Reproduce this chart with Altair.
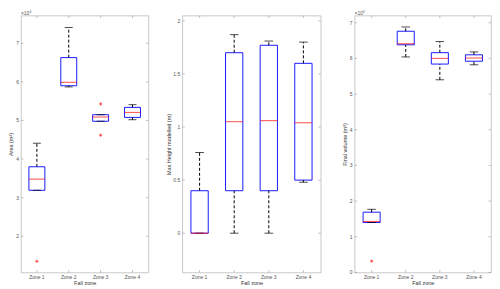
import altair as alt
import pandas as pd

zones = ["Zone 1", "Zone 2", "Zone 3", "Zone 4"]

# Panel 1: Area (x10^4 m^2)
area_wlo = [3.19, 5.87, 4.98, 5.02]
area_q1 = [3.19, 5.90, 4.98, 5.08]
area_med = [3.48, 5.99, 5.09, 5.21]
area_q3 = [3.80, 6.63, 5.15, 5.34]
area_whi = [4.41, 7.41, 5.15, 5.41]
area_out_zone = ["Zone 1", "Zone 3", "Zone 3"]
area_out_val = [1.35, 5.43, 4.62]
area_ticks = [2, 3, 4, 5, 6, 7]
area_tick_labels = ["2", "3", "4", "5", "6", "7"]

# Panel 2: Max height modelled (m)
h_wlo = [0.0, 0.0, 0.0, 0.48]
h_q1 = [0.0, 0.40, 0.40, 0.50]
h_med = [0.0, 1.05, 1.06, 1.04]
h_q3 = [0.40, 1.70, 1.77, 1.60]
h_whi = [0.76, 1.87, 1.81, 1.80]
h_out_zone = []
h_out_val = []
h_ticks = [0, 0.5, 1, 1.5, 2]
h_tick_labels = ["0", "0.5", "1", "1.5", "2"]

# Panel 3: Final volume (x10^5 m^3)
v_wlo = [1.40, 6.04, 5.40, 5.82]
v_q1 = [1.40, 6.38, 5.84, 5.92]
v_med = [1.43, 6.41, 6.00, 6.01]
v_q3 = [1.69, 6.76, 6.16, 6.10]
v_whi = [1.77, 6.88, 6.47, 6.18]
v_out_zone = ["Zone 1"]
v_out_val = [0.32]
v_ticks = [0, 1, 2, 3, 4, 5, 6, 7]
v_tick_labels = ["0", "1", "2", "3", "4", "5", "6", "7"]

FONT = "Liberation Sans"
H = 258


def panel(wlo, q1, med, q3, whi, oz, ov, ticks, tlabels, domain, ytitle, width, tpad, expo=None):
    df = pd.DataFrame({"zone": zones, "wlo": wlo, "q1": q1, "med": med, "q3": q3, "whi": whi})
    odf = pd.DataFrame({"zone": oz, "v": ov})
    tdf = pd.DataFrame({"t": ticks, "lab": tlabels})
    zdf = pd.DataFrame({"zone": zones})
    band = width / 4.0
    xs = alt.Scale(domain=zones, paddingInner=0, paddingOuter=0)
    ys = alt.Scale(domain=domain, nice=False, zero=False)
    xax = alt.Axis(title="Fall zone", labelAngle=0, ticks=False, domain=False,
                   labelFontSize=5, labelColor="#555", labelPadding=2,
                   labelFont=FONT, titleFont=FONT, titleFontSize=5.5,
                   titleFontWeight="normal", titleColor="#333", titlePadding=1)
    yax = alt.Axis(title=ytitle, values=ticks, labels=False, ticks=False, domain=False, grid=False,
                   titleFont=FONT, titleFontSize=5.5, titleFontWeight="normal",
                   titleColor="#333", titlePadding=tpad)
    base = alt.Chart(df)
    xe = alt.X("zone:N", scale=xs, bandPosition=0.5, axis=xax)

    def yq(f):
        return alt.Y(f, scale=ys, axis=yax)

    box = base.mark_bar(fill="transparent", stroke="#0000ff", strokeWidth=0.9,
                        width=alt.RelativeBandSize(0.5)).encode(
        x=xe, y=yq("q3:Q"), y2="q1:Q")
    upper = base.mark_rule(color="black", strokeDash=[3, 2], strokeWidth=1).encode(
        x=xe, y=yq("q3:Q"), y2="whi:Q")
    lower = base.mark_rule(color="black", strokeDash=[3, 2], strokeWidth=1).encode(
        x=xe, y=yq("wlo:Q"), y2="q1:Q")
    cap_hi = base.mark_tick(color="black", size=band * 0.25, thickness=1, orient="horizontal").encode(
        x=xe, y=yq("whi:Q"))
    cap_lo = base.mark_tick(color="black", size=band * 0.25, thickness=1, orient="horizontal").encode(
        x=xe, y=yq("wlo:Q"))
    medm = base.mark_tick(color="#ff0000", size=band * 0.5, thickness=1, orient="horizontal").encode(
        x=xe, y=yq("med:Q"))
    layers = [box, upper, lower, cap_hi, cap_lo, medm]
    if len(oz):
        outl = alt.Chart(odf).mark_point(shape="cross", filled=True, color="#ff0000", size=9,
                                         strokeWidth=0).encode(
            x=xe, y=yq("v:Q"))
        layers.append(outl)
    # inward ticks and tick labels
    tk = alt.Chart(tdf)
    layers.append(tk.mark_rule(color="#999", strokeWidth=0.6).encode(
        y=yq("t:Q"), x=alt.value(0), x2=alt.value(2.5)))
    layers.append(tk.mark_rule(color="#999", strokeWidth=0.6).encode(
        y=yq("t:Q"), x=alt.value(width - 2.5), x2=alt.value(width)))
    layers.append(tk.mark_text(align="right", baseline="middle", fontSize=5, font=FONT,
                               color="#555").encode(
        y=yq("t:Q"), x=alt.value(-2), text="lab:N"))
    zk = alt.Chart(zdf)
    layers.append(zk.mark_rule(color="#999", strokeWidth=0.6).encode(
        x=xe, y=alt.value(H - 2.5), y2=alt.value(H)))
    layers.append(zk.mark_rule(color="#999", strokeWidth=0.6).encode(
        x=xe, y=alt.value(0), y2=alt.value(2.5)))
    if expo:
        layers.append(alt.Chart(pd.DataFrame({"s": ["×10"]})).mark_text(
            align="left", baseline="bottom", fontSize=5, font=FONT, color="#555").encode(
            text="s:N", x=alt.value(0), y=alt.value(0)))
        layers.append(alt.Chart(pd.DataFrame({"s": [expo]})).mark_text(
            align="left", baseline="bottom", fontSize=3.5, font=FONT, color="#555").encode(
            text="s:N", x=alt.value(8.5), y=alt.value(-2)))
    return alt.layer(*layers).properties(width=width, height=H)


p1 = panel(area_wlo, area_q1, area_med, area_q3, area_whi, area_out_zone, area_out_val,
           area_ticks, area_tick_labels, [1.06, 7.72], "Area (m²)", 128, 7, "4")
p2 = panel(h_wlo, h_q1, h_med, h_q3, h_whi, h_out_zone, h_out_val,
           h_ticks, h_tick_labels, [-0.37, 2.05], "Max Height modelled (m)", 139, 11)
p3 = panel(v_wlo, v_q1, v_med, v_q3, v_whi, v_out_zone, v_out_val,
           v_ticks, v_tick_labels, [0, 7.2], "Final volume (m³)", 137, 7, "5")

chart = alt.hconcat(p1, p2, p3, spacing=34, bounds="flush").properties(
    padding={"left": 0, "top": 0, "right": 0, "bottom": 0}
).resolve_scale(x="independent", y="independent").configure_view(stroke="#bbbbbb", strokeWidth=0.8)

chart.save("out.html", embed_options={"renderer": "svg", "actions": False})
